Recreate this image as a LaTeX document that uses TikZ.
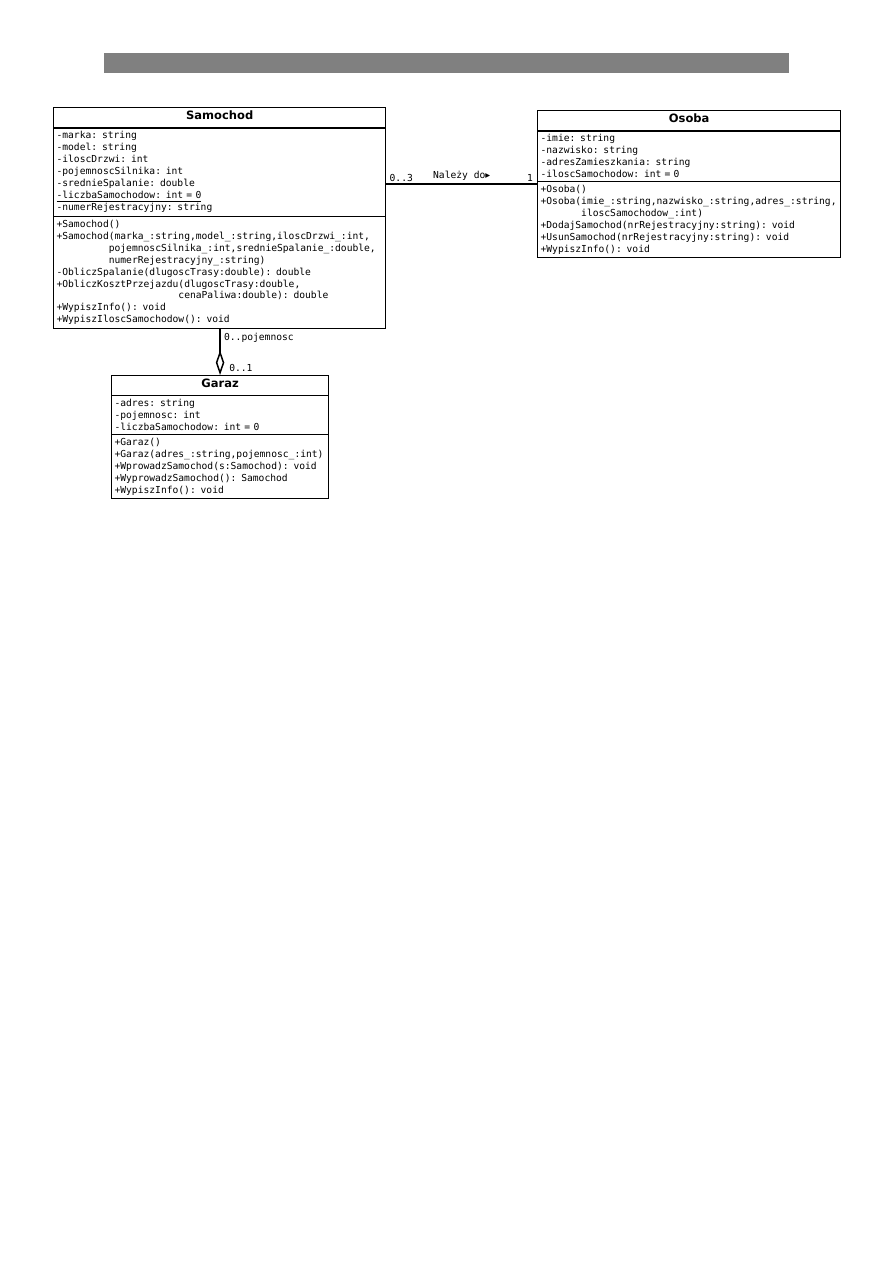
\documentclass[tikz,border=0pt]{standalone}
\usepackage{fontspec}
\setmonofont{DejaVu Sans Mono}
\setsansfont{DejaVu Sans}
\newfontfamily\symfont{DejaVu Sans}
\usepackage{tikz}
\usetikzlibrary{arrows.meta,calc,positioning,shapes.multipart}
\definecolor{bargray}{RGB}{128,128,128}
% indent by n characters of the mono font
\newcommand{\pad}[1]{\hspace*{#1\fontcharwd\font`0}}
\newcommand{\clsname}[1]{{\centering\sffamily\bfseries\fontsize{7.7}{9}\selectfont
  \rule[-3pt]{0pt}{8.3pt}#1\par}}
\tikzset{
  umlclass/.style={rectangle split,rectangle split parts=3,draw,
    line width=0.8pt,anchor=north west,inner xsep=2pt,inner ysep=2pt,
    align=left,font=\ttfamily\fontsize{6.45}{8}\selectfont},
  lab/.style={font=\ttfamily\fontsize{6.45}{8}\selectfont,inner sep=1pt},
  assoc/.style={line width=1pt},
  aggr/.style={line width=1pt,-{Diamond[open,length=0.58cm,width=0.2cm]}}
}

\begin{document}
\begin{tikzpicture}[x=0.02352cm,y=-0.02352cm]
  \useasboundingbox (0,0) rectangle (893,1263);
  \fill[white] (0,0) rectangle (893,1263);
  \fill[bargray] (104,53) rectangle (789,73);

  \node[umlclass,text width=7.67cm] (samochod) at (53,107) {\clsname{Samochod}
    \nodepart{second}
    -marka: string\\
    -model: string\\
    -iloscDrzwi: int\\
    -pojemnoscSilnika: int\\
    -srednieSpalanie: double\\
    \underline{-liczbaSamochodow: int = 0}\\
    -numerRejestracyjny: string
    \nodepart{third}
    +Samochod()\\
    +Samochod(marka\_:string,model\_:string,iloscDrzwi\_:int,\\
    \pad{9}pojemnoscSilnika\_:int,srednieSpalanie\_:double,\\
    \pad{9}numerRejestracyjny\_:string)\\
    -ObliczSpalanie(dlugoscTrasy:double): double\\
    +ObliczKosztPrzejazdu(dlugoscTrasy:double,\\
    \pad{21}cenaPaliwa:double): double\\
    +WypiszInfo(): void\\
    +WypiszIloscSamochodow(): void};

  \node[umlclass,text width=6.99cm] (osoba) at (537,110) {\clsname{Osoba}
    \nodepart{second}
    -imie: string\\
    -nazwisko: string\\
    -adresZamieszkania: string\\
    -iloscSamochodow: int = 0
    \nodepart{third}
    +Osoba()\\
    +Osoba(imie\_:string,nazwisko\_:string,adres\_:string,\\
    \pad{7}iloscSamochodow\_:int)\\
    +DodajSamochod(nrRejestracyjny:string): void\\
    +UsunSamochod(nrRejestracyjny:string): void\\
    +WypiszInfo(): void};

  \node[umlclass,text width=4.96cm] (garaz) at (111,375) {\clsname{Garaz}
    \nodepart{second}
    -adres: string\\
    -pojemnosc: int\\
    -liczbaSamochodow: int = 0
    \nodepart{third}
    +Garaz()\\
    +Garaz(adres\_:string,pojemnosc\_:int)\\
    +WprowadzSamochod(s:Samochod): void\\
    +WyprowadzSamochod(): Samochod\\
    +WypiszInfo(): void};

  % association Samochod -- Osoba
  \coordinate (sj) at (osoba.west -| samochod.east);
  \draw[assoc] (sj) -- (osoba.west)
    node[lab,midway,above=1pt] (nalezy) {Należy do{\symfont ▸}};
  \node[lab,above right=0.5pt and 1pt of sj] (m03) {0..3};
  \node[lab,above left=0.5pt and 1.5pt of osoba.west] (m1) {1};

  % aggregation Garaz <>-- Samochod
  \coordinate (gj) at (garaz.north |- samochod.south);
  \draw[aggr] (gj) -- (garaz.north);
  \node[lab,below right=1.5pt and 1.5pt of gj] (mpoj) {0..pojemnosc};
  \node[lab,above right=1pt and 5pt of garaz.north] (m01) {0..1};
\end{tikzpicture}
\end{document}
